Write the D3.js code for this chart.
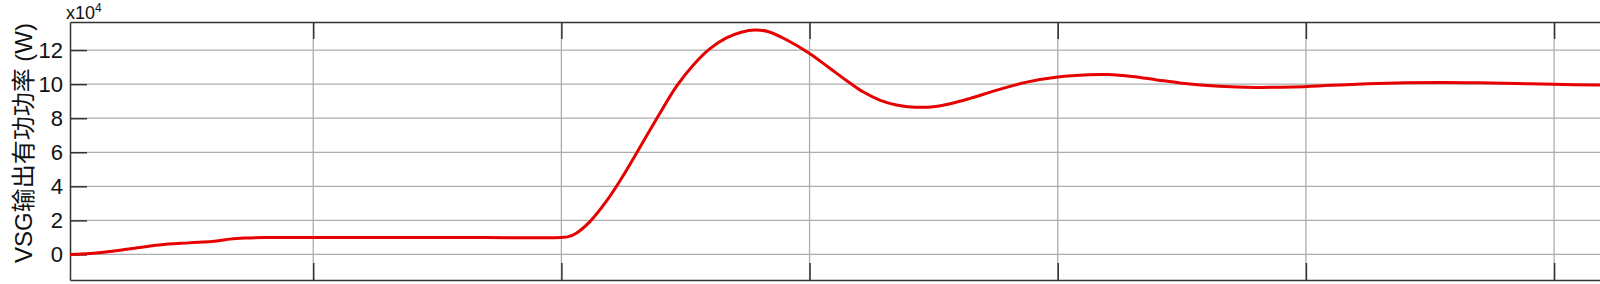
<!DOCTYPE html>
<html>
<head>
<meta charset="utf-8">
<script src="https://cdn.jsdelivr.net/npm/d3@7"></script>
<style>
  body { margin: 0; background: #fff; }
  svg { display: block; }
</style>
</head>
<body>
<div id="chart"></div>
<script>
// canvas size
var width = 1600;
var height = 284;

// plot area margins
var margin = { top: 22, right: 0, bottom: 4, left: 70 };
var width1 = width - margin.left - margin.right;
var height1 = height - margin.top - margin.bottom;

// time (s) and VSG active power (x10^4 W)
var time = [0.004, 0.02, 0.036, 0.056, 0.076, 0.1, 0.118, 0.125, 0.133, 0.145, 0.16, 0.19, 0.3, 0.4,
  0.405, 0.412, 0.423, 0.436, 0.447, 0.461, 0.477, 0.493, 0.506, 0.52, 0.533, 0.545, 0.556,
  0.567, 0.581, 0.6, 0.616, 0.63, 0.643, 0.657, 0.67, 0.685, 0.7, 0.715, 0.73, 0.751, 0.775,
  0.8, 0.825, 0.84, 0.86, 0.88, 0.9, 0.93, 0.96, 0.99, 1.02, 1.05, 1.08, 1.11, 1.14, 1.17,
  1.2, 1.237];
var power = [0.0, 0.05, 0.17, 0.37, 0.56, 0.68, 0.76, 0.82, 0.9, 0.96, 0.99, 1.0, 1.0, 1.0,
  1.03, 1.25, 1.93, 3.1, 4.3, 6.0, 8.0, 9.9, 11.1, 12.1, 12.72, 13.05, 13.18,
  13.08, 12.62, 11.8, 10.95, 10.2, 9.55, 9.05, 8.78, 8.65, 8.68, 8.88, 9.18, 9.65, 10.12,
  10.42, 10.55, 10.56, 10.45, 10.25, 10.06, 9.88, 9.81, 9.84, 9.93, 10.02, 10.08, 10.1, 10.08, 10.04,
  9.99, 9.95];

var xTicks = [0.2, 0.4, 0.6, 0.8, 1.0, 1.2];
var yTicks = [0, 2, 4, 6, 8, 10, 12];

var svg = d3.select("#chart")
  .append("svg")
  .attr("width", width)
  .attr("height", height);

var chart1 = svg.append("g")
  .attr("transform", `translate(${margin.left}, ${margin.top})`);

var xscale = d3.scaleLinear()
  .domain([0.004, 1.237])
  .range([0, width1]);
var yscale = d3.scaleLinear()
  .domain([-1.5, 13.65])
  .range([height1, 0]);

// grid lines
chart1.append("g")
  .selectAll("line")
  .data(yTicks)
  .enter()
  .append("line")
  .attr("x1", 0)
  .attr("x2", width1)
  .attr("y1", d => yscale(d))
  .attr("y2", d => yscale(d))
  .attr("stroke", "#adadad")
  .attr("stroke-width", 1.3);
chart1.append("g")
  .selectAll("line")
  .data(xTicks)
  .enter()
  .append("line")
  .attr("x1", d => xscale(d))
  .attr("x2", d => xscale(d))
  .attr("y1", 0)
  .attr("y2", height1)
  .attr("stroke", "#adadad")
  .attr("stroke-width", 1.3);

// axes with inward ticks, no labels on x (cropped)
var xAxisB = d3.axisBottom(xscale).tickValues(xTicks).tickSizeInner(-17).tickSizeOuter(0).tickFormat("");
var xAxisT = d3.axisTop(xscale).tickValues(xTicks).tickSizeInner(-17).tickSizeOuter(0).tickFormat("");
var yAxis = d3.axisLeft(yscale).tickValues(yTicks).tickSizeInner(-17).tickSizeOuter(0).tickPadding(7);

function styleAxis(g) {
  g.select(".domain").attr("stroke", "#333").attr("stroke-width", 1.5);
  g.selectAll(".tick line").attr("stroke", "#333").attr("stroke-width", 1.5);
  g.selectAll(".tick text")
    .attr("fill", "#111")
    .style("font-family", "'Liberation Sans', Arial, sans-serif")
    .style("font-size", "22px");
}

chart1.append("g")
  .attr("transform", `translate(0, ${height1})`)
  .call(xAxisB)
  .call(styleAxis);
chart1.append("g")
  .call(xAxisT)
  .call(styleAxis);
chart1.append("g")
  .call(yAxis)
  .call(styleAxis);

// power curve
var line = d3.line()
  .x(d => xscale(d[0]))
  .y(d => yscale(d[1]))
  .curve(d3.curveCatmullRom.alpha(0.5));

chart1.append("path")
  .datum(d3.zip(time, power))
  .attr("d", line)
  .attr("fill", "none")
  .attr("stroke", "#e60000")
  .attr("stroke-width", 3);

// exponent label
var expo = svg.append("text")
  .attr("x", 66)
  .attr("y", 19)
  .attr("fill", "#111")
  .style("font-family", "'Liberation Sans', Arial, sans-serif")
  .style("font-size", "18px");
expo.append("tspan").text("x10");
expo.append("tspan").attr("dy", -7).style("font-size", "12px").text("4");

// y label, drawn upward from the bottom
svg.append("text")
  .attr("transform", `translate(23, 263) rotate(-90)`)
  .attr("text-anchor", "start")
  .attr("dominant-baseline", "central")
  .attr("fill", "#111")
  .style("font-family", "'Liberation Sans', 'Noto Sans CJK SC', sans-serif")
  .style("font-size", "24px")
  .text("VSG输出有功功率 (W)");
</script>
</body>
</html>
